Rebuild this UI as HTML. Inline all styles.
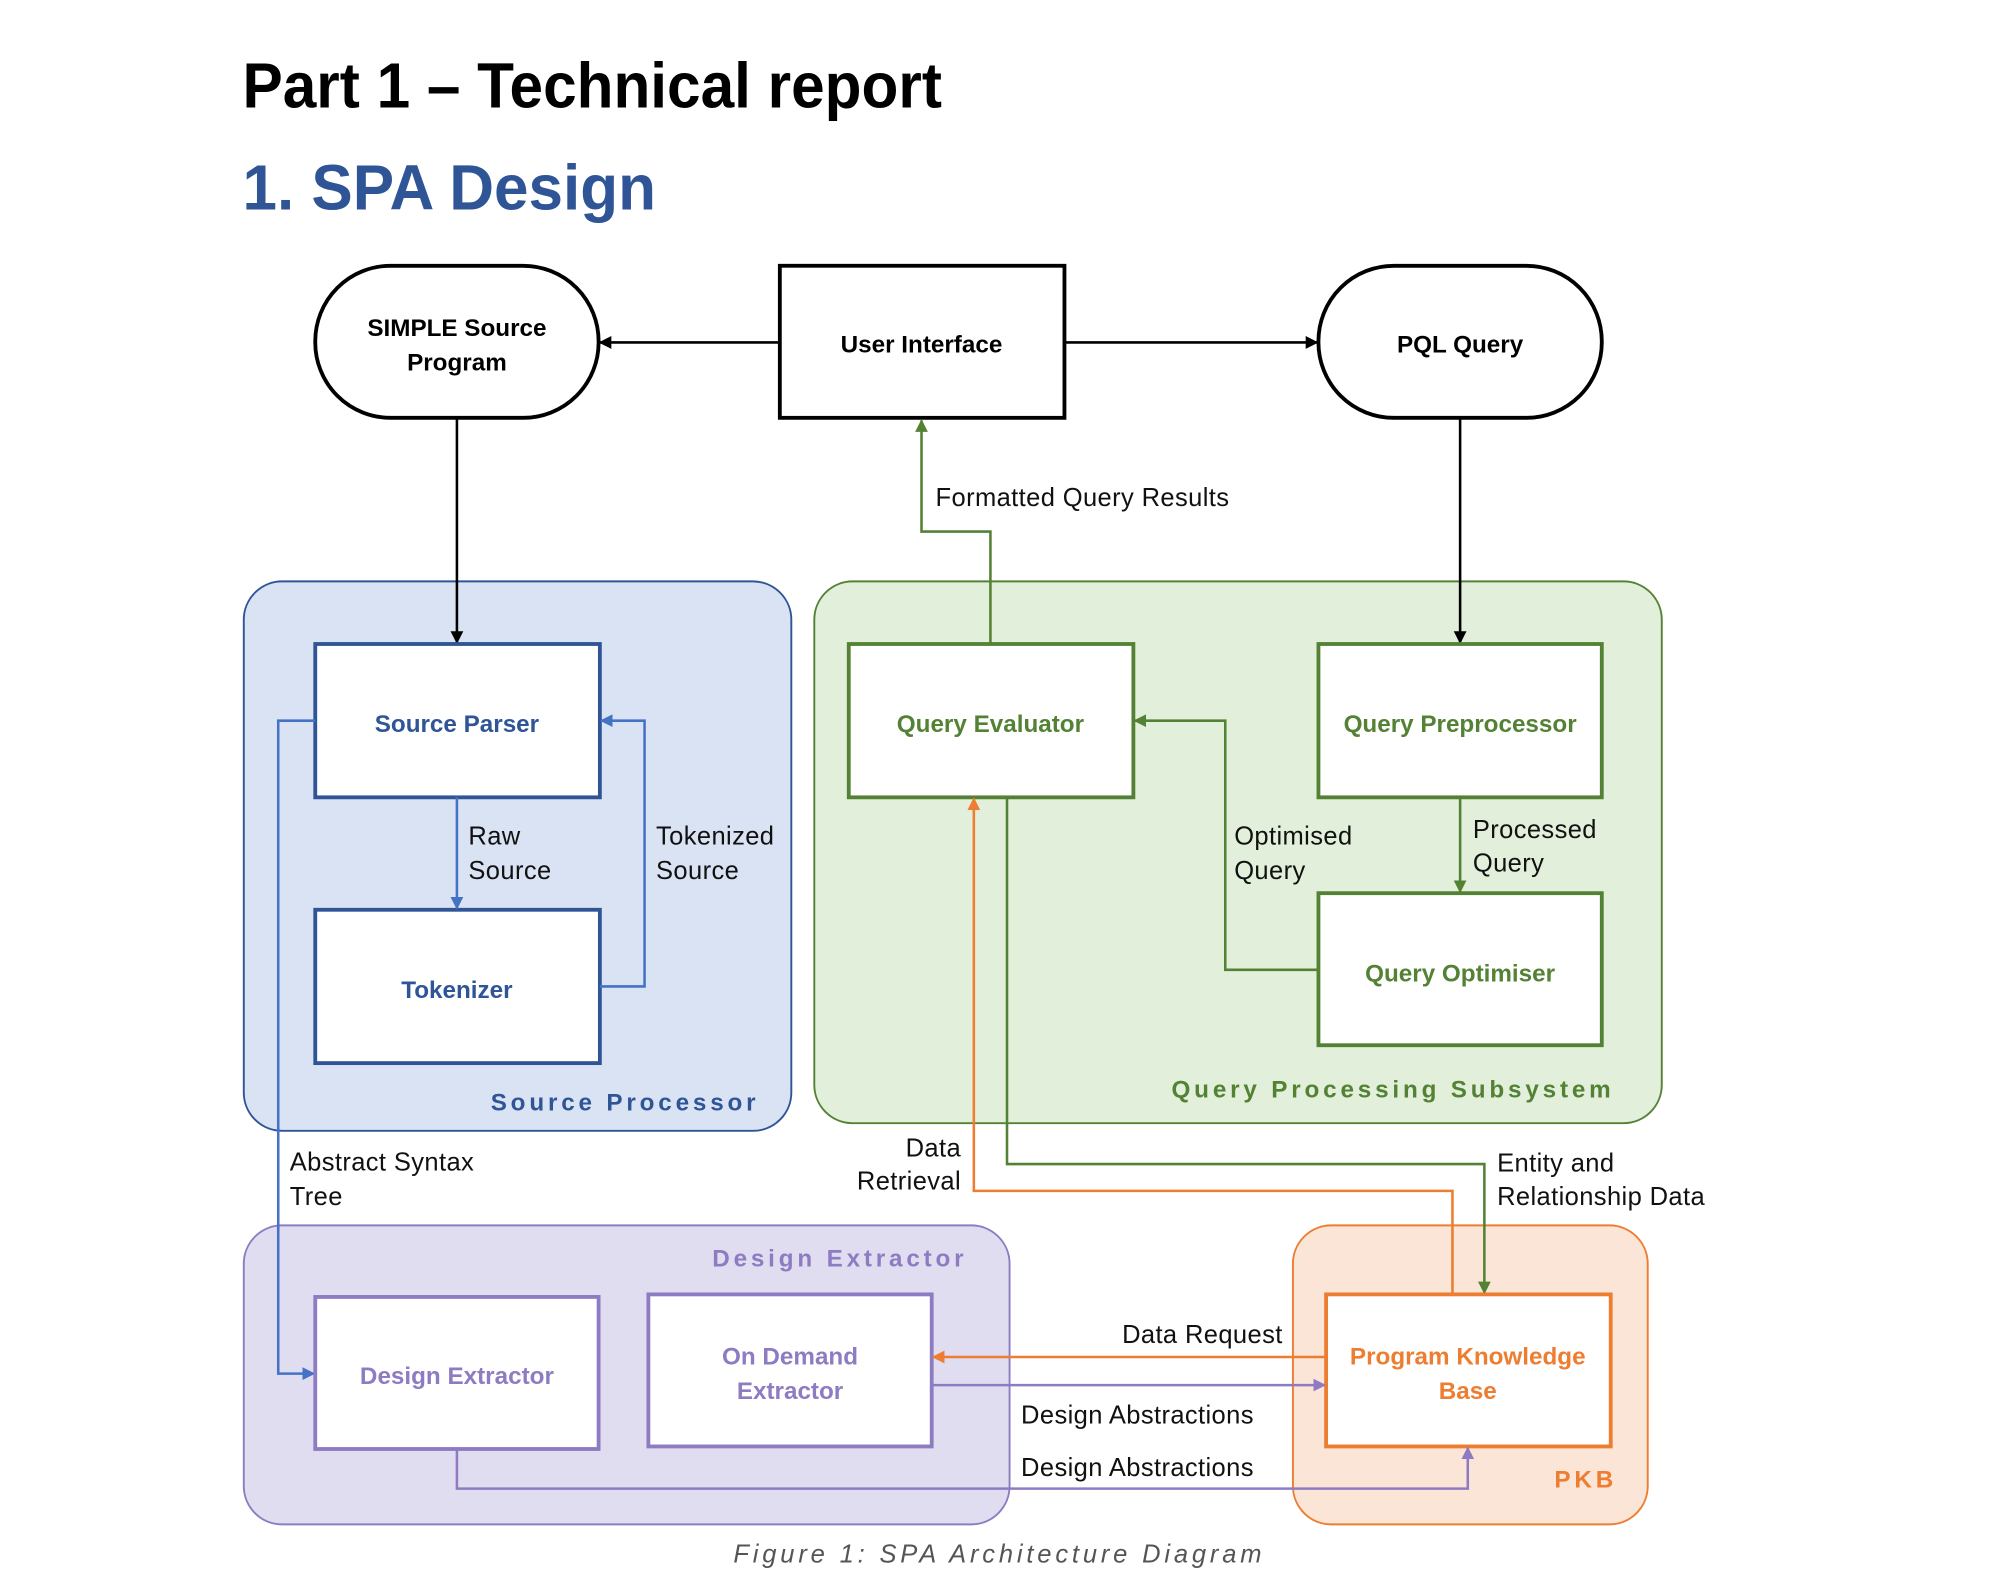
<!DOCTYPE html>
<html><head><meta charset="utf-8"><style>
html,body{margin:0;padding:0;background:#fff;}
svg{display:block;}
text{font-family:"Liberation Sans",sans-serif;}
.b{font-weight:bold;font-size:19px;}
.l{font-size:20px;fill:#111;letter-spacing:0.3px;}
</style></head><body>
<svg width="2000" height="1587" viewBox="0 0 1567 1242" preserveAspectRatio="none" xmlns="http://www.w3.org/2000/svg">
<defs>
<marker id="ak" markerWidth="10" markerHeight="10" refX="9" refY="5" orient="auto" markerUnits="userSpaceOnUse"><path d="M0,0 L10,5 L0,10 z" fill="#000"/></marker>
<marker id="ab" markerWidth="10" markerHeight="10" refX="9" refY="5" orient="auto" markerUnits="userSpaceOnUse"><path d="M0,0 L10,5 L0,10 z" fill="#4472C4"/></marker>
<marker id="ag" markerWidth="10" markerHeight="10" refX="9" refY="5" orient="auto" markerUnits="userSpaceOnUse"><path d="M0,0 L10,5 L0,10 z" fill="#548235"/></marker>
<marker id="ao" markerWidth="10" markerHeight="10" refX="9" refY="5" orient="auto" markerUnits="userSpaceOnUse"><path d="M0,0 L10,5 L0,10 z" fill="#ED7D31"/></marker>
<marker id="ap" markerWidth="10" markerHeight="10" refX="9" refY="5" orient="auto" markerUnits="userSpaceOnUse"><path d="M0,0 L10,5 L0,10 z" fill="#8E7CC3"/></marker>
</defs>

<text x="190" y="84" font-size="50" font-weight="bold" fill="#000" textLength="548" lengthAdjust="spacingAndGlyphs">Part 1 – Technical report</text>
<text x="190" y="164" font-size="50" font-weight="bold" fill="#2F5597" textLength="324" lengthAdjust="spacingAndGlyphs">1. SPA Design</text>

<rect x="191" y="455" width="429" height="430" rx="30" fill="#DAE3F3" stroke="#2F5597" stroke-width="1.5"/>
<rect x="638" y="455" width="664" height="424" rx="30" fill="#E2EFDA" stroke="#548235" stroke-width="1.5"/>
<rect x="191" y="959" width="600" height="234" rx="30" fill="#E0DDF0" stroke="#8E7CC3" stroke-width="1.5"/>
<rect x="1013" y="959" width="278" height="234" rx="30" fill="#FBE5D6" stroke="#ED7D31" stroke-width="1.5"/>

<rect x="247" y="208" width="222" height="119" rx="59" fill="#fff" stroke="#000" stroke-width="3"/>
<rect x="611" y="208" width="223" height="119" fill="#fff" stroke="#000" stroke-width="3"/>
<rect x="1033" y="208" width="222" height="119" rx="59" fill="#fff" stroke="#000" stroke-width="3"/>
<text class="b" x="358" y="263" text-anchor="middle">SIMPLE Source</text>
<text class="b" x="358" y="290" text-anchor="middle">Program</text>
<text class="b" x="722" y="276" text-anchor="middle">User Interface</text>
<text class="b" x="1144" y="276" text-anchor="middle">PQL Query</text>

<line x1="611" y1="268" x2="470" y2="268" stroke="#000" stroke-width="2" marker-end="url(#ak)"/>
<line x1="834" y1="268" x2="1032" y2="268" stroke="#000" stroke-width="2" marker-end="url(#ak)"/>
<line x1="358" y1="327" x2="358" y2="503" stroke="#000" stroke-width="2" marker-end="url(#ak)"/>
<line x1="1144" y1="327" x2="1144" y2="503" stroke="#000" stroke-width="2" marker-end="url(#ak)"/>

<rect x="247" y="504" width="223" height="120" fill="#fff" stroke="#2F5597" stroke-width="3"/>
<rect x="247" y="712" width="223" height="120" fill="#fff" stroke="#2F5597" stroke-width="3"/>
<text class="b" x="358" y="573" text-anchor="middle" fill="#2F5597">Source Parser</text>
<text class="b" x="358" y="781" text-anchor="middle" fill="#2F5597">Tokenizer</text>
<line x1="358" y1="624" x2="358" y2="711" stroke="#4472C4" stroke-width="2" marker-end="url(#ab)"/>
<text class="l" x="367" y="661">Raw</text><text class="l" x="367" y="688">Source</text>
<polyline points="470,772 505,772 505,564 471,564" fill="none" stroke="#4472C4" stroke-width="2" marker-end="url(#ab)"/>
<text class="l" x="514" y="661">Tokenized</text><text class="l" x="514" y="688">Source</text>
<polyline points="247,564 218,564 218,1075 246,1075" fill="none" stroke="#4472C4" stroke-width="2" marker-end="url(#ab)"/>
<text class="l" x="227" y="916">Abstract Syntax</text><text class="l" x="227" y="943">Tree</text>
<text x="595" y="869" text-anchor="end" font-size="19" font-weight="bold" fill="#2F5597" letter-spacing="3">Source Processor</text>

<rect x="665" y="504" width="223" height="120" fill="#fff" stroke="#548235" stroke-width="3"/>
<rect x="1033" y="504" width="222" height="120" fill="#fff" stroke="#548235" stroke-width="3"/>
<rect x="1033" y="699" width="222" height="119" fill="#fff" stroke="#548235" stroke-width="3"/>
<text class="b" x="776" y="573" text-anchor="middle" fill="#548235">Query Evaluator</text>
<text class="b" x="1144" y="573" text-anchor="middle" fill="#548235">Query Preprocessor</text>
<text class="b" x="1144" y="768" text-anchor="middle" fill="#548235">Query Optimiser</text>
<polyline points="776,504 776,416 722,416 722,329" fill="none" stroke="#548235" stroke-width="2" marker-end="url(#ag)"/>
<text class="l" x="733" y="396">Formatted Query Results</text>
<line x1="1144" y1="624" x2="1144" y2="698" stroke="#548235" stroke-width="2" marker-end="url(#ag)"/>
<text class="l" x="1154" y="656">Processed</text><text class="l" x="1154" y="682">Query</text>
<polyline points="1033,759 960,759 960,564 889,564" fill="none" stroke="#548235" stroke-width="2" marker-end="url(#ag)"/>
<text class="l" x="967" y="661">Optimised</text><text class="l" x="967" y="688">Query</text>
<text x="1265" y="859" text-anchor="end" font-size="19" font-weight="bold" fill="#548235" letter-spacing="3">Query Processing Subsystem</text>

<polyline points="789,624 789,911 1163,911 1163,1012" fill="none" stroke="#548235" stroke-width="2" marker-end="url(#ag)"/>
<text class="l" x="1173" y="917">Entity and</text><text class="l" x="1173" y="943">Relationship Data</text>
<polyline points="1138,1013 1138,932 763,932 763,625" fill="none" stroke="#ED7D31" stroke-width="2" marker-end="url(#ao)"/>
<text class="l" x="753" y="905" text-anchor="end">Data</text><text class="l" x="753" y="931" text-anchor="end">Retrieval</text>

<rect x="247" y="1015" width="222" height="119" fill="#fff" stroke="#8E7CC3" stroke-width="3"/>
<rect x="508" y="1013" width="222" height="119" fill="#fff" stroke="#8E7CC3" stroke-width="3"/>
<text class="b" x="358" y="1083" text-anchor="middle" fill="#8E7CC3">Design Extractor</text>
<text class="b" x="619" y="1068" text-anchor="middle" fill="#8E7CC3">On Demand</text>
<text class="b" x="619" y="1095" text-anchor="middle" fill="#8E7CC3">Extractor</text>
<text x="758" y="991" text-anchor="end" font-size="19" font-weight="bold" fill="#8E7CC3" letter-spacing="3">Design Extractor</text>

<rect x="1039" y="1013" width="223" height="119" fill="#fff" stroke="#ED7D31" stroke-width="3"/>
<text class="b" x="1150" y="1068" text-anchor="middle" fill="#ED7D31">Program Knowledge</text>
<text class="b" x="1150" y="1095" text-anchor="middle" fill="#ED7D31">Base</text>
<text x="1267" y="1164" text-anchor="end" font-size="19" font-weight="bold" fill="#ED7D31" letter-spacing="3">PKB</text>

<line x1="1039" y1="1062" x2="731" y2="1062" stroke="#ED7D31" stroke-width="2" marker-end="url(#ao)"/>
<text class="l" x="1005" y="1051" text-anchor="end">Data Request</text>
<line x1="730" y1="1084" x2="1038" y2="1084" stroke="#8E7CC3" stroke-width="2" marker-end="url(#ap)"/>
<text class="l" x="800" y="1114">Design Abstractions</text>
<polyline points="358,1134 358,1165 1150,1165 1150,1133" fill="none" stroke="#8E7CC3" stroke-width="2" marker-end="url(#ap)"/>
<text class="l" x="800" y="1155">Design Abstractions</text>

<text x="783" y="1223" text-anchor="middle" font-size="20" font-style="italic" fill="#555" letter-spacing="3">Figure 1: SPA Architecture Diagram</text>
</svg>
</body></html>
